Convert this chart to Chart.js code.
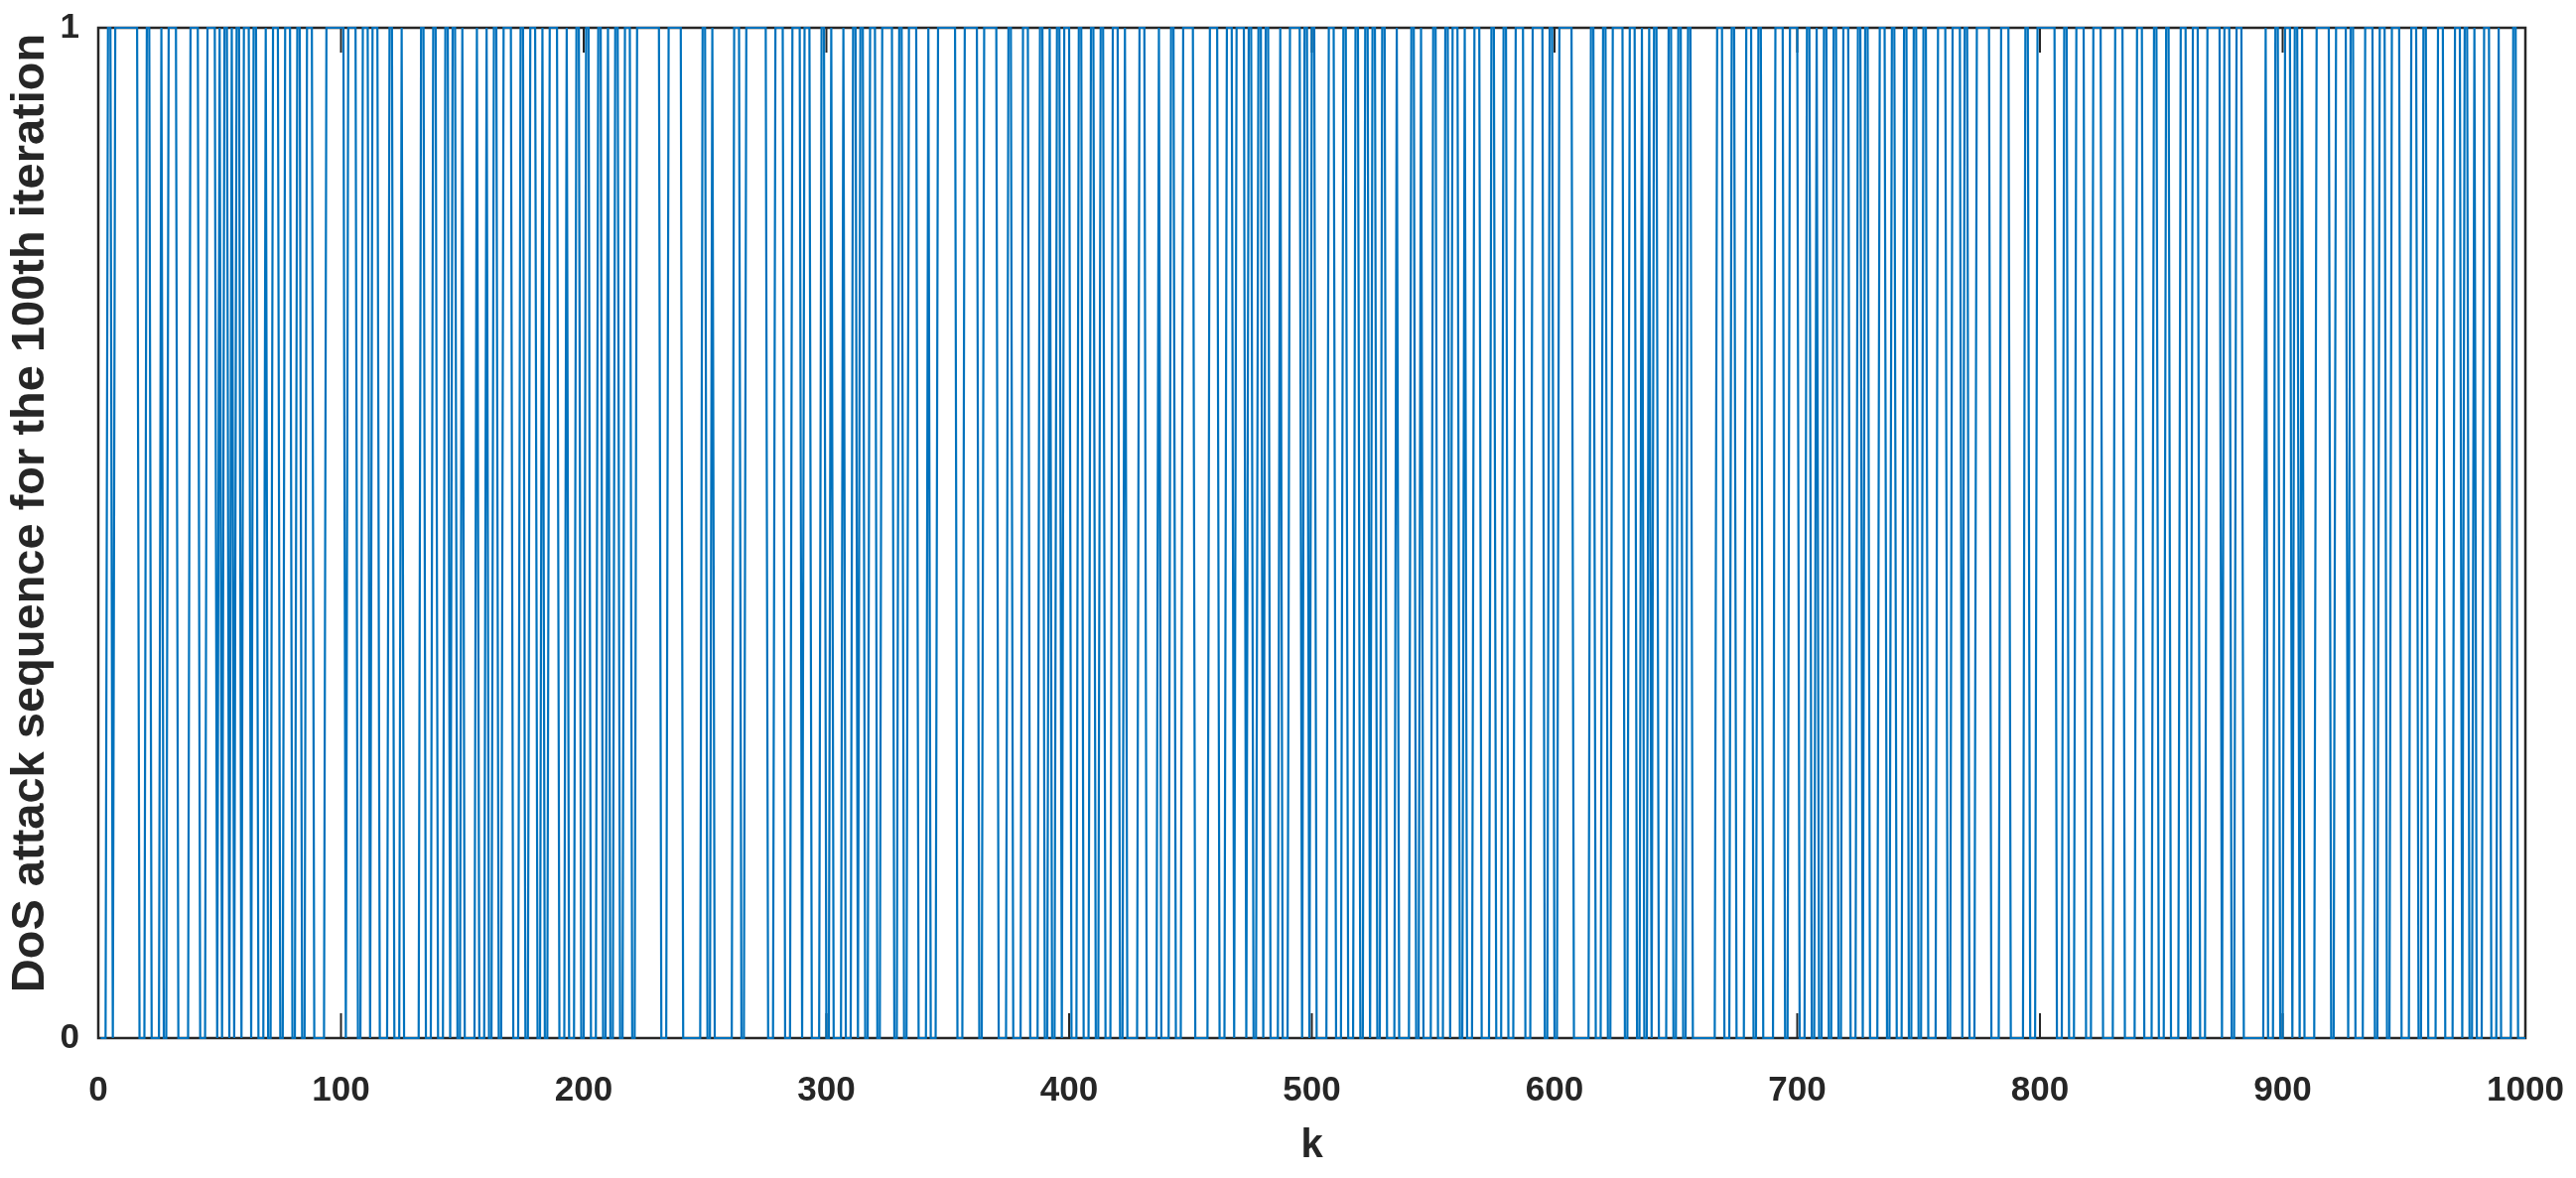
<!DOCTYPE html>
<html>
<head>
<meta charset="utf-8">
<script src="https://cdn.jsdelivr.net/npm/chart.js@4.4.1/dist/chart.umd.min.js"></script>
<style>
html, body { margin: 0; padding: 0; background: #ffffff; }
canvas { display: block; }
</style>
</head>
<body>
<canvas id="dosChart" width="2595" height="1187"></canvas>
<script>
// iteration index k where the DoS attack sequence flips between 0 and 1
const switchAt = [
  1, 4, 6, 7, 17, 20, 22, 26, 27, 29, 33, 38, 42, 45, 49, 50, 51, 52, 54, 55, 56, 57, 59, 60,
  63, 64, 66, 69, 70, 72, 75, 77, 80, 82, 84, 86, 89, 94, 102, 103, 107, 109, 112, 113, 116,
  120, 122, 125, 126, 133, 135, 138, 140, 143, 145, 146, 148, 150, 151, 156, 157, 160, 161,
  163, 165, 167, 171, 174, 176, 178, 181, 183, 184, 186, 190, 193, 194, 197, 199, 201, 203,
  206, 208, 210, 211, 213, 215, 217, 220, 222, 232, 235, 241, 249, 251, 253, 254, 262, 265,
  267, 276, 279, 283, 286, 290, 291, 294, 298, 300, 302, 303, 307, 308, 311, 313, 314, 316,
  318, 321, 323, 328, 330, 332, 334, 338, 342, 343, 346, 354, 357, 363, 365, 371, 375, 377,
  381, 384, 388, 390, 392, 393, 395, 397, 398, 401, 404, 406, 409, 411, 413, 415, 418, 421,
  423, 424, 429, 432, 437, 438, 442, 444, 447, 452, 458, 462, 465, 468, 469, 473, 474, 476,
  478, 480, 481, 483, 487, 488, 491, 496, 497, 499, 500, 502, 507, 510, 513, 515, 518, 520,
  522, 524, 525, 527, 529, 531, 535, 536, 541, 543, 545, 546, 550, 552, 555, 557, 558, 561,
  563, 564, 567, 570, 574, 576, 579, 581, 584, 588, 591, 596, 598, 600, 602, 608, 615, 617,
  620, 622, 624, 629, 631, 634, 636, 637, 639, 640, 641, 643, 647, 649, 651, 653, 655, 657,
  667, 670, 673, 675, 679, 682, 684, 686, 691, 695, 697, 701, 704, 706, 708, 709, 711, 713,
  715, 717, 719, 722, 725, 727, 728, 730, 734, 737, 739, 741, 744, 746, 748, 750, 752, 754,
  758, 762, 764, 768, 769, 771, 774, 780, 784, 788, 794, 796, 799, 807, 810, 812, 815, 819,
  822, 826, 831, 835, 840, 843, 847, 849, 852, 854, 858, 861, 863, 866, 869, 875, 876, 879,
  881, 884, 893, 894, 897, 899, 901, 904, 905, 907, 908, 909, 914, 920, 922, 927, 928, 930,
  934, 938, 940, 943, 945, 949, 953, 956, 958, 960, 964, 967, 971, 974, 975, 977, 979, 980,
  983, 986, 989, 990, 995, 997
]
const firstK = 1
const lastK = 1000
const valueBeforeFirstSwitch = 1

const xTicks = [0, 100, 200, 300, 400, 500, 600, 700, 800, 900, 1000]
const yTicks = [0, 1]

const xTitle = 'k'
const yTitle = 'DoS attack sequence for the 100th iteration'

// walk k and flip the state at each read switch point
var attackPoints = []
var state = valueBeforeFirstSwitch
var next = 0
for (var k = firstK; k <= lastK; k++) {
    if (switchAt[next] === k) {
        state = 1 - state
        next++
    }
    attackPoints.push({ x: k, y: state })
}

const axisColor = '#262626'

// MATLAB style box with inward ticks on top and bottom
const boxAndTicks = {
    id: 'boxAndTicks',
    beforeDatasetsDraw(chart) {
        const ctx = chart.ctx
        const a = chart.chartArea
        const xs = chart.scales.x
        ctx.save()
        ctx.strokeStyle = axisColor
        ctx.lineWidth = 2.5
        ctx.strokeRect(a.left, a.top, a.right - a.left, a.bottom - a.top)
        ctx.lineWidth = 2
        ctx.beginPath()
        xTicks.forEach(function (v) {
            const px = xs.getPixelForValue(v)
            ctx.moveTo(px, a.bottom)
            ctx.lineTo(px, a.bottom - 25)
            ctx.moveTo(px, a.top)
            ctx.lineTo(px, a.top + 25)
        })
        ctx.stroke()
        ctx.restore()
    },
    // y label sits a bit above the axis middle, like the MATLAB figure
    afterDraw(chart) {
        const ctx = chart.ctx
        ctx.save()
        ctx.translate(31, 517)
        ctx.rotate(-Math.PI / 2)
        ctx.fillStyle = axisColor
        ctx.font = 'bold 47px "Liberation Sans"'
        ctx.textAlign = 'center'
        ctx.textBaseline = 'middle'
        ctx.fillText(yTitle, 0, 0)
        ctx.restore()
    }
}

const dosChart = new Chart(document.getElementById('dosChart').getContext('2d'), {
    type: 'line',
    data: {
        datasets: [{
            label: 'DoS attack',
            data: attackPoints,
            borderColor: '#0072BD',
            borderWidth: 2.2,
            pointRadius: 0,
            tension: 0,
            fill: false,
            clip: 3
        }]
    },
    options: {
        responsive: false,
        animation: false,
        events: [],
        layout: { padding: { left: 0, top: 28, right: 51, bottom: 0 } },
        plugins: {
            legend: { display: false },
            tooltip: { enabled: false }
        },
        scales: {
            x: {
                type: 'linear',
                min: 0,
                max: 1000,
                afterFit: function (scale) {
                    scale.height = 141
                    scale.paddingLeft = 0
                    scale.paddingRight = 0
                },
                afterBuildTicks: function (scale) { scale.ticks = xTicks.map(function (v) { return { value: v } }) },
                grid: { display: false, drawTicks: false },
                border: { display: false },
                ticks: {
                    padding: 32,
                    color: axisColor,
                    maxRotation: 0,
                    callback: function (v) { return String(v) },
                    font: { family: 'Liberation Sans', size: 35, weight: 'bold' }
                },
                title: {
                    display: true,
                    text: xTitle,
                    color: axisColor,
                    padding: { top: 0, bottom: 8 },
                    font: { family: 'Liberation Sans', size: 40, weight: 'bold' }
                }
            },
            y: {
                type: 'linear',
                min: 0,
                max: 1,
                afterFit: function (scale) {
                    scale.width = 99
                    scale.paddingTop = 0
                    scale.paddingBottom = 0
                },
                afterBuildTicks: function (scale) { scale.ticks = yTicks.map(function (v) { return { value: v } }) },
                grid: { display: false, drawTicks: false },
                border: { display: false },
                ticks: {
                    padding: 19,
                    color: axisColor,
                    callback: function (v) { return String(v) },
                    font: { family: 'Liberation Sans', size: 35, weight: 'bold' }
                }
            }
        }
    },
    plugins: [boxAndTicks]
})
</script>
</body>
</html>
